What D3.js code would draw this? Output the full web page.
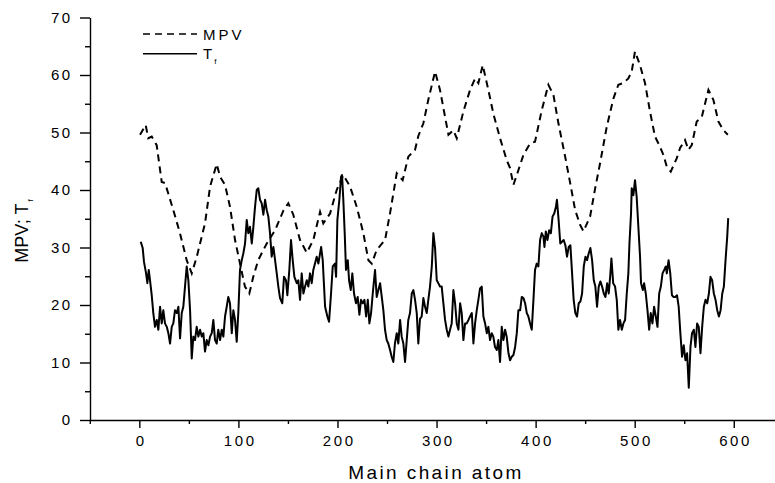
<!DOCTYPE html>
<html><head><meta charset="utf-8">
<script src="https://cdn.jsdelivr.net/npm/d3@7/dist/d3.min.js"></script>
<style>
body{margin:0;background:#fff}
svg{display:block}
text{font-family:"Liberation Sans",Arial,sans-serif;fill:#000}
</style>
</head><body>
<svg id="c" width="775" height="483"></svg>
<script>
// ---------------- data ----------------
const mpvX = [0.7,6.4,9,12.5,17.5,22.6,26,34.3,41,47.8,52.9,58,66.3,71.4,78.1,81.5,86.5,91.5,96.6,101.6,106.6,111,115,120,128.6,137,145.6,150.4,155.4,162.2,169,175.6,182.4,185.7,192.5,199.2,205.9,212.7,219.4,226.1,231.2,234.6,239.6,248,253,259.8,265.8,271.5,278.3,281.6,286.7,291.7,298.5,303.5,308.6,312,317,320.4,327,333.8,338.9,342.2,346.6,352.3,357.3,364.1,370.8,374.2,377.6,381,387.7,394.4,399.4,406.2,412.9,418,423,429.8,434.9,439.9,445,448.3,455,460,465,471.8,478.5,483.5,488.5,493.6,497,500.3,505.4,510.4,515.5,520.5,525.6,529,532.3,536.4,542.4,545.8,550.8,554.2,557.6,562.6,567.7,574.4,579.4,584.5,589.5,594];
const mpvY = [49.6,51.3,49,49.3,47.8,41.4,41.2,36.5,32.5,27.8,25.5,28.4,34.2,40.6,44.5,42.3,40.9,37.1,31.3,27.2,23.2,22,24.9,27.8,30.7,33,36.5,37.7,35.7,31.3,29.1,31.3,36.2,34.2,35.9,40,42.6,40.6,37.1,32.5,27.8,27.2,29.6,31.3,35.9,42.9,41.7,45.8,47,49.4,51.6,55.7,60.6,57.4,52.7,49.6,50.4,49,53.6,57.4,59.4,58.6,61.7,57.4,53.3,49,45.2,43.8,40.9,42.6,46.1,48.1,48.4,53.9,58.3,56.5,51.6,45.8,41.2,36.5,33.9,32.8,35.4,40.2,44.6,51,55.9,58.3,58.6,59.4,60.6,64.1,61.7,58.6,53.6,49.3,47.5,46.1,44.1,43.2,45.5,47.3,48.7,47,47.8,51.9,52.7,57.4,55.7,51.9,50.4,49.6];

const tfX = [1.4,3.4,4.7,6.8,8.1,9.5,10.8,12.5,14.1,15.8,17.6,19.2,20.9,22.6,24.2,25.9,27.7,29.3,31,32.7,34.3,36,37.8,39.4,41.1,42.8,44.4,46.1,47.8,49.5,51.2,52.9,54.5,56.2,57.9,59.6,61.3,63,64.6,66.3,68,69.7,71.4,73.1,74.7,76.4,78.1,79.7,81.5,83.2,84.8,86.5,88.2,89.8,91.5,93.3,94.9,96.6,98.3,99.9,101.6,103.4,105,106.7,108.4,110,111.7,113.5,115.1,116.8,118.5,120.1,121.8,123.5,125.2,126.9,128.6,130.2,131.9,133.6,135.3,137,138.7,140.3,142,144.3,146,148,149.4,151.4,153.1,154.8,156.5,158.9,160.5,162.2,163.9,165.6,167.3,169,170.6,172.3,174,175.6,177.3,179,180.7,183.5,185.1,187.5,189.8,191.5,193.5,195.2,197.5,198.6,199.9,201.9,203.6,204.6,205.9,207.3,208.6,210.4,211.7,213.4,215,216.7,218.7,220.4,222.1,223.8,225.5,227.2,228.9,230.6,232.2,233.9,235.6,237.9,239.6,241.3,243,244.7,246.3,248,249.7,251.3,253,254.7,256.4,258,259.8,261.4,263.2,264.8,266.5,268.2,269.9,271.5,273.2,275,276.6,278.3,280,281.6,283.3,285,286.7,288.4,290.1,291.7,293.4,295.2,296.8,298.5,300.2,301.8,303.5,305.2,306.9,308.6,310.3,312,313.6,315.3,317,318.7,320.4,322.1,323.8,325.4,327.1,328.8,330.5,332.2,333.8,335.6,337.2,338.9,340.6,342.2,343.9,345.6,347.3,349,350.7,352.3,354,355.7,357.3,359,360.8,362.4,364.1,365.8,367.5,369.2,370.8,372.6,374.2,375.9,377.6,379.3,381,382.6,384.4,386,387.7,389.4,391.1,392.7,394.4,396.1,397.8,399.4,401.1,402.8,404.5,406.2,407.9,408.9,410.3,411.9,413.7,415.4,417.1,418.8,420.5,421.5,423.2,424.9,426.6,428.3,430,431.7,433.4,435.1,436.8,438.4,440.1,441.8,443.5,445.2,446.9,448.6,450.3,451.9,453.6,455.3,457,458.7,460.3,462,463.7,465.4,467.1,468.8,470.5,472.2,473.8,475.5,476.5,478.3,480.2,481.9,483.5,485.2,487,488.6,490.3,492,493.6,494.7,496.3,497,498.7,500.3,502,503.7,505.4,506.4,508.2,509.5,511.2,512.9,514.6,516.2,517.9,519.6,521.3,523,524.7,526.4,528.1,529.8,531.4,532.4,534.2,535.9,537.6,539.3,541,542.7,544.4,546.1,547.8,549.5,551.2,552.9,554.6,556.3,557.9,559.7,561.3,563,564.7,566.4,568.1,569.8,571.5,573.2,574.9,576.5,578.2,579.9,581.6,583.3,585,586.7,588.4,590,591.7,593.4,594.4];
const tfY = [31,29.9,27.5,25.5,23.8,26.1,24.3,21.7,18.6,16.2,17.4,15.7,19.7,16.8,19.1,16.8,16.2,15.1,13.3,16.2,16.8,19.1,18.6,19.7,14.2,18.6,19.7,23.2,26.7,24.3,19.1,10.7,14.5,13.9,16.2,14.5,15.7,14.5,15.1,11.9,13.9,13,14.5,15.1,17.4,13.9,13.3,15.7,13.9,15.7,14.5,18,19.7,21.4,20.3,15.1,19.1,17.4,13.6,18.6,26.1,27.8,29,30.7,34.8,32.5,33.6,30.7,33.6,37.1,40,40.3,38.3,37.7,35.7,38.3,36.5,35.4,32.5,28.4,30.1,27.8,25.5,23.2,21.2,20.3,24.9,24.3,21.7,26.1,31.3,27.8,24.9,23.8,24.3,20.9,25.5,22,23.2,24.3,23.2,25.5,23.8,26.1,27.2,28.4,27.2,30.1,27.8,19.7,18,17.1,22,26.7,27.2,24.9,34.8,38.3,42.3,42.6,38.3,32.5,26.1,27.8,24.3,22.6,25.5,22,20.3,21.4,18.3,20.9,20.3,20.9,18,20.9,16.8,18.6,22,26.1,21.4,22.6,23.8,21.4,19.1,15.7,13.9,13.3,12.2,11,10.1,13.3,15.1,13.3,17.4,14.5,13.3,10.1,13.9,17.4,18.6,22,22.6,20.9,18.6,13.3,17.6,18,21.2,19.7,18.6,20.9,23.2,26.7,32.5,29.9,24.3,23.8,23.2,23.2,20.3,17.4,15.7,14.5,15.7,16.8,22.6,20.3,16.8,15.7,20.3,18.6,13.9,16.8,16.8,17.4,18,18.6,13.3,16.8,19.1,20.9,22.9,23.2,18,16.8,15.1,16.2,13.9,15.1,14.5,12.7,12.2,13.9,10.1,16.2,13.9,15.7,14.5,11.6,10.4,11,11.3,12.7,15.1,19.1,19.1,21.4,21.2,20.3,18.6,18,16.8,15.7,20.9,26.1,27.2,26.7,31.3,32.5,31.9,30.1,32.8,31.3,33,32.5,35.4,35.9,37.1,38.3,34.8,30.7,31,31.3,30.4,28.4,30.1,30.4,25.5,20.9,18.6,18,20.3,20.6,22,26.7,28.4,27.8,29,29.9,27.8,24.3,23.2,19.7,23.2,24.1,23.2,22,21.4,23.8,22,25.5,28.1,23.8,23.2,20.9,15.7,17.4,15.7,16.8,17.4,22,25.5,30.7,35.9,40.3,39.1,41.7,38.8,33.6,28.4,23.8,22.6,23.8,22,19.1,15.7,18.6,16.8,19.7,18,16.2,22,23.2,25.5,26.1,26.7,25.5,27.8,25.5,21.7,21.4,21.4,21.7,19.7,15.1,11,13,10.4,11.6,5.6,12.7,15.1,15.7,12.7,16.8,16.2,11.6,16.2,19.7,20.9,20.3,22,24.9,24.3,22,20.9,19.1,18,19.1,22,23.2,27.8,31.9,35.1];

const xMajorTicks = [0,100,200,300,400,500,600];
const xMinorTicks = [-50,50,150,250,350,450,550,650];
const yMajorTicks = [0,10,20,30,40,50,60,70];
const yMinorTicks = [5,15,25,35,45,55,65];
const seriesNames = ["MPV","T"];
const seriesSub = ["","f"];
const xTitle = "Main chain atom";

// ---------------- chart ----------------
const svg = d3.select("#c");
const x = d3.scaleLinear().domain([-50, 650]).range([89.8, 783.3]);
const y = d3.scaleLinear().domain([0, 70]).range([420, 17.5]);

// x axis
const gx = svg.append("g").attr("transform","translate(0,420)");
gx.call(d3.axisBottom(x).tickValues(xMajorTicks).tickSize(8).tickSizeOuter(0).tickPadding(7).tickFormat(d3.format("d")));
const gxm = svg.append("g").attr("transform","translate(0,420)");
gxm.call(d3.axisBottom(x).tickValues(xMinorTicks).tickSize(4).tickSizeOuter(0).tickFormat(""));
gxm.select(".domain").remove();

// y axis
const gy = svg.append("g").attr("transform","translate(90,0)");
gy.call(d3.axisLeft(y).tickValues(yMajorTicks).tickSize(10).tickSizeOuter(0).tickPadding(10).tickFormat(d3.format("d")));
const gym = svg.append("g").attr("transform","translate(90,0)");
gym.call(d3.axisLeft(y).tickValues(yMinorTicks).tickSize(5).tickSizeOuter(0).tickFormat(""));
gym.select(".domain").remove();

svg.selectAll(".domain, .tick line").attr("stroke","#000").attr("stroke-width",1.4);
gx.selectAll(".tick text").attr("font-size",15).attr("font-family","Liberation Sans, Arial, sans-serif")
  .attr("letter-spacing","2.6px").attr("dx","1.3px").attr("fill","#000");
gy.selectAll(".tick text").attr("font-size",15).attr("font-family","Liberation Sans, Arial, sans-serif")
  .attr("letter-spacing","2.2px").attr("dx","2.2px").attr("dy","0.33em").attr("fill","#000");

// titles
svg.append("text").attr("x",436).attr("y",479).attr("text-anchor","middle")
  .attr("font-size",19).attr("letter-spacing","2.4px").text(xTitle);
const yl = svg.append("text").attr("transform","translate(28,231) rotate(-90)")
  .attr("text-anchor","middle").attr("font-size",18);
yl.append("tspan").text("MPV; T");
yl.append("tspan").attr("font-size",8).attr("dy","5").attr("dx","2").text("f");

// lines
const line = d3.line().x(d => x(d[0])).y(d => y(d[1]));
const mpvData = mpvX.map((v,i) => [v, mpvY[i]]);
const tfData = tfX.map((v,i) => [v, tfY[i]]);
svg.append("path").datum(mpvData).attr("d",line).attr("fill","none").attr("stroke","#000")
  .attr("stroke-width",2).attr("stroke-dasharray","7,5");
svg.append("path").datum(tfData).attr("d",line).attr("fill","none").attr("stroke","#000")
  .attr("stroke-width",2).attr("stroke-linejoin","round");

// legend
const dashes = ["7,5", null];
seriesNames.forEach((name,i) => {
  const ly = 34 + i*19.7;
  svg.append("line").attr("x1",143).attr("x2",197).attr("y1",ly).attr("y2",ly)
    .attr("stroke","#000").attr("stroke-width",1.6).attr("stroke-dasharray",dashes[i]);
  const t = svg.append("text").attr("x",203).attr("y",ly+5.5).attr("font-size",15).attr("letter-spacing","3px");
  t.append("tspan").text(name);
  if (seriesSub[i]) t.append("tspan").attr("font-size",8).attr("dy","5").attr("dx","-1").attr("letter-spacing","0").text(seriesSub[i]);
});
</script>
</body></html>
